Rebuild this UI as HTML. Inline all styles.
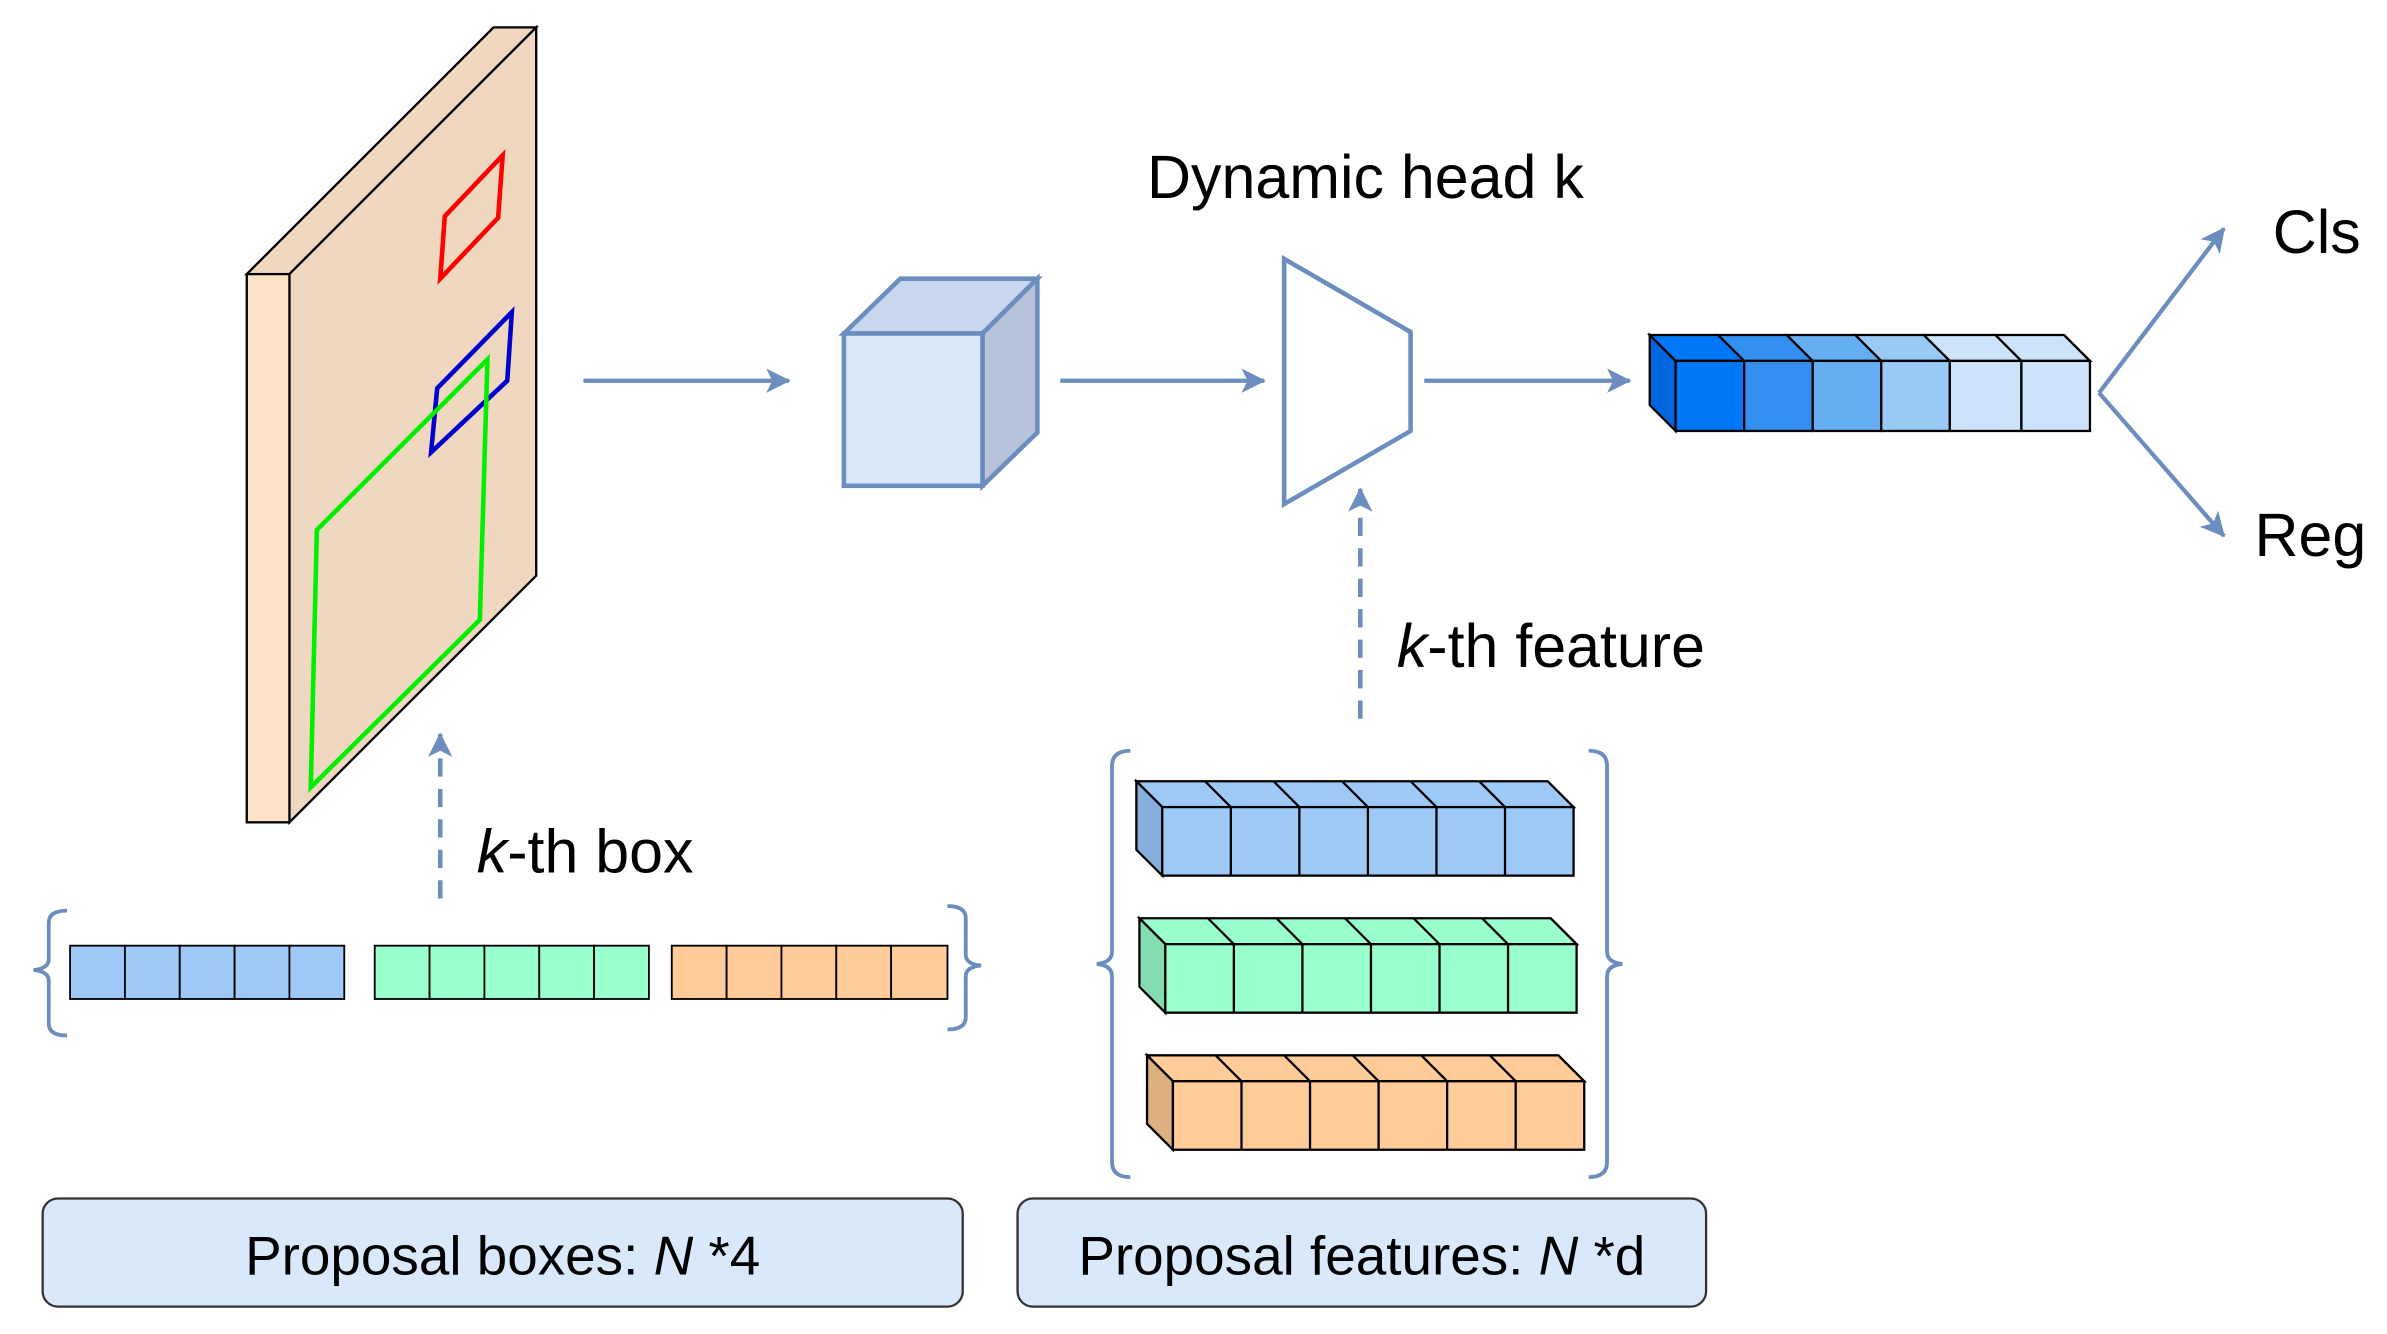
<!DOCTYPE html>
<html><head><meta charset="utf-8"><style>html,body{margin:0;padding:0;background:#fff}svg{display:block}</style></head>
<body>
<svg width="2387" height="1334" viewBox="0 0 1567 876" preserveAspectRatio="none" xmlns="http://www.w3.org/2000/svg" font-family="Liberation Sans, sans-serif">
<defs>
<marker id="ah2" markerWidth="16" markerHeight="16" refX="15" refY="8" orient="auto" markerUnits="userSpaceOnUse"><path d="M0,0 L16,8 L0,16 L4,8 Z" fill="#6c8ebf"/></marker>
</defs>
<polygon points="162,180 190,180 352,18 324,18" fill="#f0d8c0" stroke="#000" stroke-width="1.5"/>
<polygon points="190,180 352,18 352,378 190,540" fill="#f0d8c0" stroke="#000" stroke-width="1.5"/>
<rect x="162" y="180" width="28" height="360" fill="#fde3c8" stroke="#000" stroke-width="1.5"/>
<polygon points="289,183 292,142 330,102 327,143" fill="none" stroke="#ff0000" stroke-width="3"/>
<polygon points="283,297 287,255 336,205 333,250" fill="none" stroke="#0000cc" stroke-width="3"/>
<polygon points="204,517 208,348 320,236 315,407" fill="none" stroke="#00ee00" stroke-width="3"/>
<g stroke="#6c8ebf" stroke-width="2.8" fill="none">
<line x1="383" y1="250" x2="518" y2="250" marker-end="url(#ah2)"/>
<line x1="696" y1="250" x2="830" y2="250" marker-end="url(#ah2)"/>
<line x1="935" y1="250" x2="1070" y2="250" marker-end="url(#ah2)"/>
<line x1="1378" y1="258" x2="1460" y2="150" marker-end="url(#ah2)"/>
<line x1="1378" y1="258" x2="1460" y2="352" marker-end="url(#ah2)"/>
<line x1="893" y1="472" x2="893" y2="321" stroke-width="3" stroke-dasharray="12,8" marker-end="url(#ah2)"/>
<line x1="289" y1="590" x2="289" y2="482" stroke-width="3" stroke-dasharray="12,8" marker-end="url(#ah2)"/>
</g>
<g stroke="#6c8ebf" stroke-width="3">
<polygon points="554,219 591,183 681,183 645,219" fill="#c8d6ee"/>
<polygon points="645,219 681,183 681,284 645,319" fill="#b6c3d8"/>
<rect x="554" y="219" width="91" height="100" fill="#dae8fc"/>
</g>
<polygon points="843,170 926,218 926,283 843,331" fill="#fff" stroke="#6c8ebf" stroke-width="3"/>
<g stroke="#000" stroke-width="1.5">
<polygon points="1083,220 1100,237 1100,283 1083,266" fill="#0066dd"/>
<polygon points="1083,220 1128,220 1145,237 1100,237" fill="#0077f7"/>
<polygon points="1128,220 1173,220 1190,237 1145,237" fill="#3390f0"/>
<polygon points="1173,220 1218,220 1235,237 1190,237" fill="#66aef2"/>
<polygon points="1218,220 1263,220 1280,237 1235,237" fill="#99c9f5"/>
<polygon points="1263,220 1310,220 1327,237 1280,237" fill="#cce3f9"/>
<polygon points="1310,220 1355,220 1372,237 1327,237" fill="#cce3f9"/>
<rect x="1100" y="237" width="45" height="46" fill="#0077f7"/>
<rect x="1145" y="237" width="45" height="46" fill="#3390f0"/>
<rect x="1190" y="237" width="45" height="46" fill="#66aef2"/>
<rect x="1235" y="237" width="45" height="46" fill="#99c9f5"/>
<rect x="1280" y="237" width="47" height="46" fill="#cce3f9"/>
<rect x="1327" y="237" width="45" height="46" fill="#cce3f9"/>
</g>
<g stroke="#000" stroke-width="1.2">
<rect x="46" y="621" width="36" height="35" fill="#9ec9f7"/><rect x="82" y="621" width="36" height="35" fill="#9ec9f7"/><rect x="118" y="621" width="36" height="35" fill="#9ec9f7"/><rect x="154" y="621" width="36" height="35" fill="#9ec9f7"/><rect x="190" y="621" width="36" height="35" fill="#9ec9f7"/>
<rect x="246" y="621" width="36" height="35" fill="#99ffcc"/><rect x="282" y="621" width="36" height="35" fill="#99ffcc"/><rect x="318" y="621" width="36" height="35" fill="#99ffcc"/><rect x="354" y="621" width="36" height="35" fill="#99ffcc"/><rect x="390" y="621" width="36" height="35" fill="#99ffcc"/>
<rect x="441" y="621" width="36" height="35" fill="#ffcc99"/><rect x="477" y="621" width="36" height="35" fill="#ffcc99"/><rect x="513" y="621" width="36" height="35" fill="#ffcc99"/><rect x="549" y="621" width="36" height="35" fill="#ffcc99"/><rect x="585" y="621" width="37" height="35" fill="#ffcc99"/>
</g>
<g stroke="#6c8ebf" stroke-width="2.5" fill="none">
<path d="M44,598 Q32,598 32,606 L32,630 Q32,636 22,637 Q32,638 32,644 L32,672 Q32,680 44,680"/>
<path d="M622,595 Q634,595 634,603 L634,627 Q634,633 644,634 Q634,635 634,641 L634,668 Q634,676 622,676"/>
<path d="M742,493 Q730,493 730,503 L730,625 Q730,632 720,633 Q730,634 730,641 L730,763 Q730,773 742,773"/>
<path d="M1043,493 Q1055,493 1055,503 L1055,625 Q1055,632 1065,633 Q1055,634 1055,641 L1055,763 Q1055,773 1043,773"/>
</g>
<g stroke="#000" stroke-width="1.5">
<g fill="#9ec9f7">
<polygon points="746,513 1016,513 1033,530 763,530"/>
<polygon points="746,513 763,530 763,575 746,558" fill="#86b0dd"/>
<path d="M791,513 L808,530 M836,513 L853,530 M881,513 L898,530 M926,513 L943,530 M971,513 L988,530" fill="none"/>
<rect x="763" y="530" width="270" height="45"/>
<path d="M808,530 V575 M853,530 V575 M898,530 V575 M943,530 V575 M988,530 V575" fill="none"/>
</g>
<g fill="#99ffcc">
<polygon points="748,603 1018,603 1035,620 765,620"/>
<polygon points="748,603 765,620 765,665 748,648" fill="#82ddb0"/>
<path d="M793,603 L810,620 M838,603 L855,620 M883,603 L900,620 M928,603 L945,620 M973,603 L990,620" fill="none"/>
<rect x="765" y="620" width="270" height="45"/>
<path d="M810,620 V665 M855,620 V665 M900,620 V665 M945,620 V665 M990,620 V665" fill="none"/>
</g>
<g fill="#ffcc99">
<polygon points="753,693 1023,693 1040,710 770,710"/>
<polygon points="753,693 770,710 770,755 753,738" fill="#ddb080"/>
<path d="M798,693 L815,710 M843,693 L860,710 M888,693 L905,710 M933,693 L950,710 M978,693 L995,710" fill="none"/>
<rect x="770" y="710" width="270" height="45"/>
<path d="M815,710 V755 M860,710 V755 M905,710 V755 M950,710 V755 M995,710 V755" fill="none"/>
</g>
</g>
<rect x="28" y="787" width="604" height="71" rx="10" fill="#dae8fc" stroke="#333" stroke-width="1.5"/>
<rect x="668" y="787" width="452" height="71" rx="10" fill="#dae8fc" stroke="#333" stroke-width="1.5"/>
<g font-size="36" fill="#000">
<text x="330" y="837" text-anchor="middle">Proposal boxes: <tspan font-style="italic">N</tspan> *4</text>
<text x="894" y="837" text-anchor="middle">Proposal features: <tspan font-style="italic">N</tspan> *d</text>
<text x="753" y="130" font-size="40">Dynamic head k</text>
<text x="1492" y="166" font-size="40">Cls</text>
<text x="1480" y="365" font-size="40">Reg</text>
<text x="917" y="438" font-size="40"><tspan font-style="italic">k</tspan>-th feature</text>
<text x="313" y="573" font-size="40"><tspan font-style="italic">k</tspan>-th box</text>
</g>
</svg>
</body></html>
